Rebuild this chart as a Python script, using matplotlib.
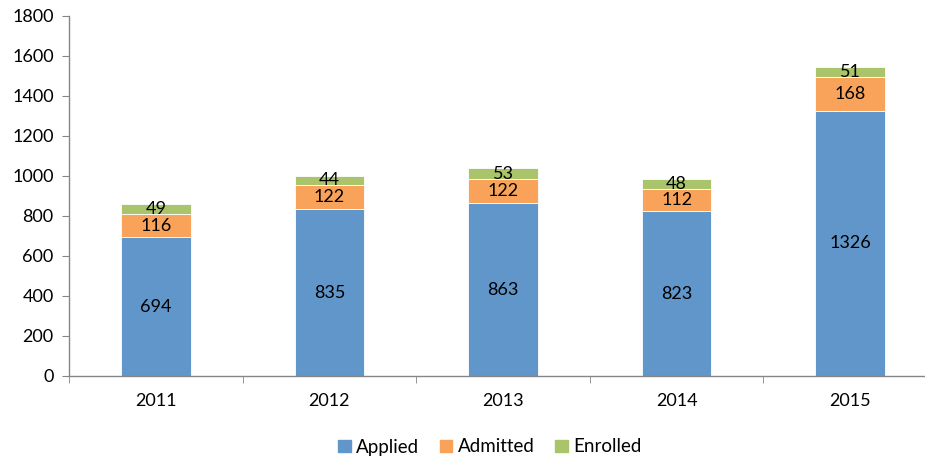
import matplotlib
matplotlib.use("Agg")
import matplotlib.pyplot as plt
import numpy as np

years = ["2011", "2012", "2013", "2014", "2015"]
applied = [694, 835, 863, 823, 1326]
admitted = [116, 122, 122, 112, 168]
enrolled = [49, 44, 53, 48, 51]

plt.rcParams['font.family'] = ['Lato', 'DejaVu Sans']
fig = plt.figure(figsize=(9.25, 4.57), dpi=100)
ax = fig.add_axes([69/925, 81/457, 868/925, 360/457])

x = np.arange(len(years))
w = 0.4
cols = ["#6096C9", "#F9A35A", "#A9C46A"]
names = ["Applied", "Admitted", "Enrolled"]
bottom = np.zeros(len(years))
for vals, c, n in zip([applied, admitted, enrolled], cols, names):
    ax.bar(x, vals, w, bottom=bottom, color=c, edgecolor="white", linewidth=0.6, label=n)
    for xi, b, v in zip(x, bottom, vals):
        ax.text(xi, b + v/2, str(v), ha="center", va="center", fontsize=13, color="black")
    bottom += np.array(vals)

ax.set_xlim(-0.5, 4.5)
ax.set_ylim(0, 1800)
ax.set_yticks(range(0, 1801, 200))
ax.set_xticks(x)
ax.set_xticklabels(years)
ax.set_xticks(np.arange(-0.5, 4.6, 1), minor=True)
ax.tick_params(axis="x", which="major", length=0, pad=12, labelsize=13)
ax.tick_params(axis="x", which="minor", length=5, color="#868686", direction="out")
ax.tick_params(axis="y", length=5, color="#868686", labelsize=13, pad=6)
for s in ["top", "right"]:
    ax.spines[s].set_visible(False)
for s in ["left", "bottom"]:
    ax.spines[s].set_color("#868686")
    ax.spines[s].set_linewidth(1.0)

handles = [plt.Rectangle((0, 0), 1, 1, color=c) for c in cols]
fig.legend(handles, names, loc="center", bbox_to_anchor=(490/925, 1 - 447/457), ncol=3,
           frameon=False, fontsize=13.5, handlelength=0.65, handleheight=0.65,
           handletextpad=0.3, columnspacing=1.1)

fig.savefig("out.png", dpi=100)
